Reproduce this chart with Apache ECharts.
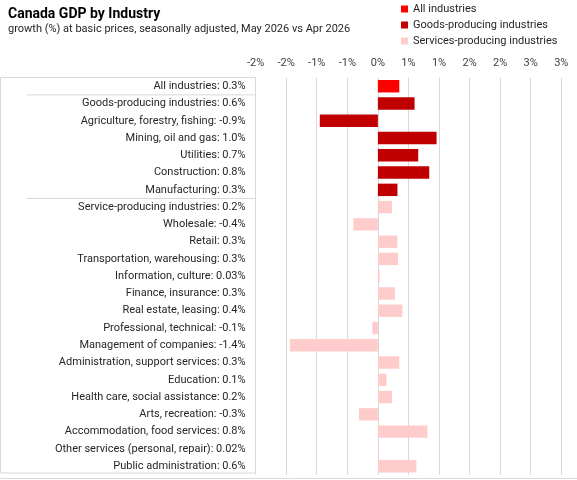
<!DOCTYPE html>
<html>
<head>
<meta charset="utf-8">
<script src="https://cdn.jsdelivr.net/npm/echarts@6/dist/echarts.min.js"></script>
<style>
html,body{margin:0;padding:0;background:#fff;}
#c{width:577px;height:480px;}
</style>
</head>
<body>
<div id="c"></div>
<script>
var categories = [
  "All industries: 0.3%",
  "Goods-producing industries: 0.6%",
  "Agriculture, forestry, fishing: -0.9%",
  "Mining, oil and gas: 1.0%",
  "Utilities: 0.7%",
  "Construction: 0.8%",
  "Manufacturing: 0.3%",
  "Service-producing industries: 0.2%",
  "Wholesale: -0.4%",
  "Retail: 0.3%",
  "Transportation, warehousing: 0.3%",
  "Information, culture: 0.03%",
  "Finance, insurance: 0.3%",
  "Real estate, leasing: 0.4%",
  "Professional, technical: -0.1%",
  "Management of companies: -1.4%",
  "Administration, support services: 0.3%",
  "Education: 0.1%",
  "Health care, social assistance: 0.2%",
  "Arts, recreation: -0.3%",
  "Accommodation, food services: 0.8%",
  "Other services (personal, repair): 0.02%",
  "Public administration: 0.6%"
];
var allIndustries = [0.35, '-', '-', '-', '-', '-', '-', '-', '-', '-', '-', '-', '-', '-', '-', '-', '-', '-', '-', '-', '-', '-', '-'];
var goodsProducing = ['-', 0.60, -0.95, 0.96, 0.66, 0.84, 0.32, '-', '-', '-', '-', '-', '-', '-', '-', '-', '-', '-', '-', '-', '-', '-', '-'];
var servicesProducing = ['-', '-', '-', '-', '-', '-', '-', 0.23, -0.40, 0.32, 0.33, 0.03, 0.28, 0.40, -0.09, -1.44, 0.35, 0.14, 0.23, -0.31, 0.81, 0.02, 0.63];
var seriesNames = ["All industries", "Goods-producing industries", "Services-producing industries"];
var xTickLabels = ["-2%", "-2%", "-1%", "-1%", "0%", "1%", "1%", "2%", "2%", "3%", "3%"];

var FONT = 'Roboto, sans-serif';
var chart = echarts.init(document.getElementById('c'), null, {renderer: 'canvas'});
var gridTop = 77.6, gridBottom = 480 - 474.8;
var rowH = (474.8 - 77.6) / categories.length;

var option = {
  animation: false,
  backgroundColor: '#fff',
  title: [{
    text: 'Canada GDP by Industry',
    left: 3, top: 2,
    textStyle: {fontFamily: FONT, fontSize: 14, fontWeight: 'bold', color: '#000'}
  }, {
    text: 'growth (%) at basic prices, seasonally adjusted, May 2026 vs Apr 2026',
    left: 3, top: 19,
    textStyle: {fontFamily: FONT, fontSize: 11, fontWeight: 'normal', color: '#262626'}
  }],
  legend: {
    orient: 'vertical',
    left: 396, top: 2,
    padding: [0, 5, 0, 5],
    itemWidth: 7, itemHeight: 7,
    itemGap: 2,
    icon: 'rect',
    textStyle: {fontFamily: FONT, fontSize: 11, color: '#262626', lineHeight: 14},
    data: seriesNames
  },
  grid: {left: 255.6, right: 577 - 561.3, top: gridTop, bottom: gridBottom, containLabel: false},
  xAxis: {
    type: 'value',
    position: 'top',
    min: -2, max: 3, interval: 0.5,
    axisLine: {show: false},
    axisTick: {show: false},
    splitLine: {show: true, lineStyle: {color: '#D9D9D9', width: 1}},
    axisLabel: {
      margin: 9,
      fontFamily: FONT, fontSize: 11, color: '#404040',
      formatter: function (v, i) { return xTickLabels[i]; }
    }
  },
  yAxis: {
    type: 'category',
    inverse: true,
    data: categories,
    axisLine: {show: false},
    axisTick: {show: false},
    splitLine: {show: false},
    axisLabel: {margin: 10, fontFamily: FONT, fontSize: 11, color: '#262626'}
  },
  series: [
    {name: seriesNames[0], type: 'bar', stack: 'g', data: allIndustries, barCategoryGap: '28%', itemStyle: {color: '#FF0000'}},
    {name: seriesNames[1], type: 'bar', stack: 'g', data: goodsProducing, barCategoryGap: '28%', itemStyle: {color: '#C00000'}},
    {name: seriesNames[2], type: 'bar', stack: 'g', data: servicesProducing, barCategoryGap: '28%', itemStyle: {color: '#FFCCCC'}}
  ],
  graphic: [
    {type: 'rect', shape: {x: 0.5, y: 77.5, width: 255, height: 395.5}, style: {fill: 'none', stroke: '#D9D9D9', lineWidth: 1}, silent: true},
    {type: 'line', shape: {x1: 27, y1: gridTop + rowH, x2: 255.5, y2: gridTop + rowH}, style: {stroke: '#D9D9D9', lineWidth: 1}, silent: true},
    {type: 'line', shape: {x1: 27, y1: gridTop + 7 * rowH, x2: 255.5, y2: gridTop + 7 * rowH}, style: {stroke: '#D9D9D9', lineWidth: 1}, silent: true},
    {type: 'line', shape: {x1: 0, y1: 478.5, x2: 577, y2: 478.5}, style: {stroke: '#D9D9D9', lineWidth: 1}, silent: true}
  ]
};
chart.setOption(option);
</script>
</body>
</html>
